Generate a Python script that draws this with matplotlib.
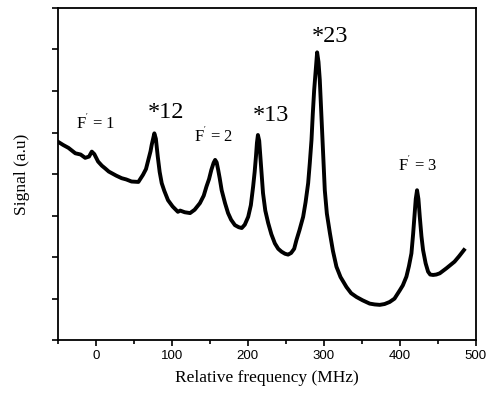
import matplotlib
matplotlib.use("Agg")
import matplotlib.pyplot as plt
from matplotlib.ticker import MultipleLocator, NullFormatter

plt.rcParams['mathtext.fontset'] = 'custom'
plt.rcParams['mathtext.rm'] = 'Liberation Serif'
plt.rcParams['mathtext.it'] = 'Liberation Serif'

# Relative frequency (MHz) and signal (a.u.)
freq = [-50, -43, -36, -27, -20, -14, -9, -5.3, -2, 3, 8, 12, 17, 21, 27, 34, 40, 47,
        56, 62, 66, 69, 72, 73.5, 75.5, 77, 79, 81.5, 84, 86.7, 90, 95, 101, 108, 111,
        117, 124, 130, 137, 142, 145.6, 149, 152, 155, 157, 159, 161, 163, 165.6, 170,
        174, 178, 183, 188, 192, 196, 200.5, 204, 207, 209, 210.7, 212, 213.3, 215,
        216.8, 218.5, 220, 223, 226.8, 231, 235.6, 240, 244.4, 249, 253, 257, 261,
        264, 268, 272.8, 276, 279.4, 281.5, 283.8, 285.5, 287.3, 289.5, 291.2, 293,
        294.7, 296.5, 298.3, 300, 301.3, 304, 308, 312, 316.6, 322, 329.8, 336, 343,
        351, 360.4, 367, 373.6, 380, 386.7, 393, 400, 404, 408.7, 412, 415.3, 417.5,
        419.6, 421, 422.7, 424.5, 426.3, 428.5, 430.6, 434, 437.2, 440, 443.8, 448,
        452.6, 457, 461.3, 466, 472, 478, 484.4]
signal = [4.78, 4.70, 4.63, 4.50, 4.47, 4.39, 4.42, 4.54, 4.48, 4.30, 4.20, 4.14, 4.06,
          4.02, 3.96, 3.90, 3.87, 3.82, 3.81, 3.98, 4.12, 4.34, 4.55, 4.70, 4.86, 4.98,
          4.85, 4.42, 4.05, 3.78, 3.60, 3.37, 3.22, 3.09, 3.12, 3.08, 3.06, 3.14, 3.30,
          3.48, 3.70, 3.88, 4.10, 4.27, 4.34, 4.28, 4.10, 3.90, 3.61, 3.30, 3.06, 2.90,
          2.77, 2.72, 2.70, 2.78, 2.97, 3.25, 3.70, 4.05, 4.42, 4.75, 4.94, 4.80, 4.34,
          3.90, 3.54, 3.12, 2.82, 2.55, 2.33, 2.20, 2.13, 2.08, 2.06, 2.10, 2.20, 2.41,
          2.65, 2.97, 3.32, 3.78, 4.25, 4.82, 5.45, 6.02, 6.55, 6.93, 6.70, 6.27, 5.55,
          4.82, 4.15, 3.61, 3.05, 2.58, 2.15, 1.77, 1.52, 1.28, 1.13, 1.04, 0.96, 0.88,
          0.86, 0.85, 0.87, 0.92, 1.00, 1.20, 1.32, 1.53, 1.78, 2.09, 2.55, 3.05, 3.40,
          3.61, 3.40, 2.97, 2.50, 2.17, 1.85, 1.65, 1.58, 1.57, 1.58, 1.61, 1.67, 1.73,
          1.80, 1.89, 2.02, 2.17]

labels = ["F$^{'}$ = 1", "*12", "F$^{'}$ = 2", "*13", "*23", "F$^{'}$ = 3"]
label_x = [-1, 92, 155, 230, 308, 424]
label_y = [5.23, 5.47, 4.92, 5.42, 7.30, 4.20]
label_big = [False, True, False, True, True, False]

fig = plt.figure(figsize=(4.86, 3.96), dpi=100)
ax = fig.add_axes([0.119, 0.141, 0.860, 0.839])

ax.plot(freq, signal, color='black', linewidth=2.8, solid_joinstyle='round')

ax.set_xlim(-50, 500)
ax.set_ylim(0, 8)
ax.xaxis.set_major_locator(MultipleLocator(100))
ax.xaxis.set_minor_locator(MultipleLocator(50))
ax.yaxis.set_major_locator(MultipleLocator(1))
ax.yaxis.set_major_formatter(NullFormatter())
ax.tick_params(axis='x', which='major', direction='out', length=4, width=1.2,
               labelsize=9.5, pad=3)
ax.tick_params(axis='x', which='minor', direction='out', length=3, width=1.2)
ax.tick_params(axis='y', which='major', direction='out', length=4.5, width=1.2)
for lab in ax.get_xticklabels():
    lab.set_fontfamily('Liberation Sans')
for s in ax.spines.values():
    s.set_linewidth(1.3)

ax.set_xlabel("Relative frequency (MHz)", fontfamily='Liberation Serif', fontsize=12.5,
              labelpad=6)
ax.set_ylabel("Signal (a.u)", fontfamily='Liberation Serif', fontsize=12.5, labelpad=12)

for t, x, y, big in zip(labels, label_x, label_y, label_big):
    ax.text(x, y, t, fontfamily='Liberation Serif', fontsize=17.5 if big else 12,
            ha='center', va='center')

fig.savefig("out.png", dpi=100)
